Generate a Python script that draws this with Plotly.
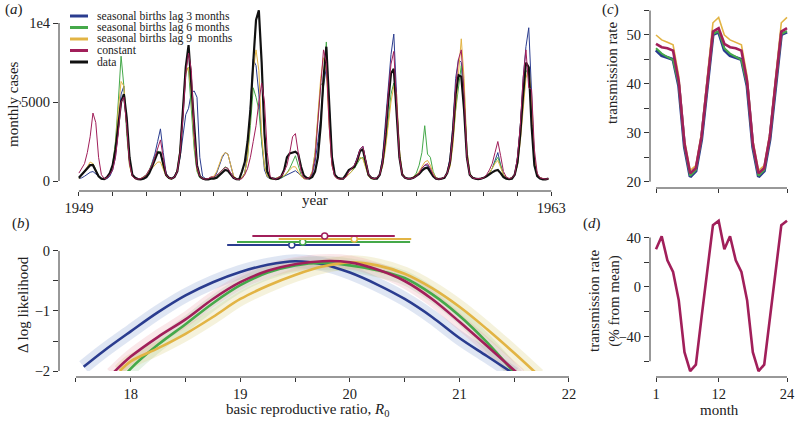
import plotly.graph_objects as go

W, H = 795, 421
def px(x): return x / W
def py(y): return 1 - y / H

FONT = "Liberation Serif, Times New Roman, Tinos, DejaVu Serif, serif"
TXT = "#222222"
AX = "#333333"

C_BLUE = "#2a3c8f"
C_GREEN = "#45a94a"
C_ORANGE = "#e2b444"
C_MAG = "#a11f5a"
C_BLACK = "#111111"

# ---------------- panel (a): monthly cases 1949-1962 ----------------
start_year = 1949
n_months = 168
t_years = [start_year + i / 12 for i in range(n_months)]

cases_data = [
    200, 400, 600, 800, 1000, 1000, 600, 300, 150, 120, 250, 500,
    1000, 2000, 3500, 5000, 5500, 4000, 1500, 400, 200, 120, 100, 150,
    250, 500, 900, 1400, 1800, 1800, 1100, 400, 200, 150, 250, 600,
    1800, 4300, 7200, 8600, 6000, 3000, 1000, 300, 150, 100, 100, 150,
    150, 200, 350, 550, 700, 650, 400, 200, 120, 100, 600, 1200,
    2500, 4500, 7500, 10200, 10800, 7500, 3000, 600, 200, 150, 120, 150,
    300, 700, 1500, 1750, 1800, 1850, 1700, 900, 350, 200, 150, 250,
    600, 1500, 3500, 6500, 8500, 4500, 1500, 400, 200, 150, 150, 400,
    700, 800, 900, 1300, 1900, 2000, 1200, 400, 200, 150, 150, 400,
    1200, 2800, 5000, 6800, 7100, 4500, 1500, 400, 200, 150, 150, 200,
    300, 450, 650, 800, 850, 600, 300, 150, 120, 150, 200, 500,
    1200, 3000, 5500, 6700, 6600, 4500, 1500, 400, 200, 150, 120, 150,
    200, 300, 450, 550, 650, 700, 500, 250, 150, 120, 150, 400,
    1200, 3000, 5500, 7500, 7200, 3500, 1000, 300, 150, 100, 100, 150,
]
cases_lag3 = [
    150, 200, 300, 450, 550, 600, 450, 250, 150, 100, 150, 300,
    700, 1500, 3200, 5500, 6000, 3500, 1200, 400, 200, 120, 130, 200,
    300, 600, 1100, 1700, 2500, 3300, 1800, 500, 200, 150, 300, 700,
    1500, 2800, 4200, 4600, 5600, 5700, 5300, 1500, 300, 150, 150, 250,
    200, 500, 1000, 1500, 1800, 1700, 1000, 300, 150, 120, 200, 500,
    1800, 5000, 7700, 7300, 5500, 2500, 700, 250, 150, 120, 150, 200,
    200, 300, 400, 500, 600, 650, 500, 300, 150, 120, 150, 400,
    1200, 2500, 4000, 6000, 7200, 5000, 1500, 400, 200, 150, 150, 300,
    600, 800, 1000, 1500, 2000, 2200, 1300, 400, 200, 150, 200, 400,
    1500, 3500, 5500, 8000, 9300, 5000, 1500, 400, 200, 150, 150, 200,
    300, 500, 800, 1000, 1000, 700, 300, 150, 120, 150, 250, 500,
    1500, 3500, 6500, 7700, 7500, 4500, 1500, 400, 200, 150, 120, 150,
    200, 300, 500, 800, 1300, 1800, 1000, 400, 200, 150, 200, 400,
    1500, 3500, 6500, 8500, 9700, 5000, 1500, 400, 200, 150, 120, 150,
]
cases_lag6 = [
    200, 400, 600, 800, 1000, 1100, 700, 300, 150, 100, 200, 500,
    1000, 2500, 5000, 7900, 6000, 3000, 1000, 300, 150, 120, 150, 250,
    400, 700, 1100, 1500, 1900, 1800, 900, 300, 150, 120, 250, 700,
    2000, 4500, 7300, 7000, 4500, 2000, 600, 200, 150, 120, 150, 200,
    200, 300, 500, 700, 900, 800, 400, 200, 120, 100, 200, 500,
    1500, 3500, 5900, 5300, 4500, 2500, 1000, 300, 150, 120, 150, 250,
    200, 300, 500, 800, 1200, 1600, 1000, 400, 200, 150, 200, 600,
    1800, 4000, 6100, 6200, 8800, 4500, 1300, 400, 200, 150, 150, 250,
    400, 600, 800, 1100, 1400, 1500, 900, 300, 150, 120, 200, 400,
    1000, 2200, 3800, 5500, 6200, 4800, 1800, 500, 200, 150, 150, 250,
    500, 1000, 1800, 3500, 1700, 1500, 600, 200, 150, 150, 250, 500,
    1000, 2500, 4500, 6000, 7300, 6000, 2000, 500, 200, 150, 130, 150,
    200, 300, 500, 800, 1200, 1500, 1000, 400, 200, 150, 200, 400,
    1000, 2800, 5000, 7000, 6800, 4000, 1200, 400, 200, 150, 120, 150,
]
cases_lag9 = [
    150, 350, 600, 900, 1200, 1100, 700, 300, 150, 100, 200, 500,
    900, 2200, 4500, 6300, 6000, 3200, 1000, 300, 150, 120, 150, 250,
    350, 600, 800, 1000, 1200, 1200, 700, 300, 150, 120, 250, 700,
    2000, 4500, 6800, 7200, 5500, 2500, 700, 250, 150, 120, 150, 250,
    300, 600, 1100, 1600, 1800, 1700, 1000, 350, 150, 120, 200, 500,
    1500, 4000, 7000, 8300, 7000, 3000, 900, 300, 150, 120, 150, 250,
    250, 350, 500, 700, 900, 900, 600, 300, 150, 120, 200, 600,
    1800, 4000, 6500, 7800, 7000, 3500, 1000, 300, 150, 120, 150, 250,
    400, 600, 900, 1200, 1500, 1400, 800, 300, 150, 120, 200, 400,
    900, 2000, 3500, 5000, 6000, 5500, 2000, 500, 200, 150, 150, 250,
    400, 600, 900, 1200, 1300, 1000, 500, 200, 150, 150, 250, 500,
    900, 2200, 4500, 7000, 9000, 6500, 2000, 500, 200, 150, 130, 150,
    200, 300, 500, 800, 1100, 1300, 900, 400, 200, 150, 200, 400,
    1000, 2500, 4500, 6500, 7200, 5000, 1500, 400, 200, 150, 120, 150,
]
cases_const = [
    500, 800, 1100, 1800, 2800, 4300, 3700, 1500, 400, 150, 200, 400,
    700, 1500, 3000, 5000, 5300, 3500, 1100, 300, 150, 120, 150, 250,
    400, 700, 1000, 1500, 2000, 2600, 1500, 400, 200, 150, 250, 600,
    1800, 4000, 6800, 8100, 7000, 3000, 900, 300, 150, 120, 150, 250,
    250, 350, 500, 700, 850, 800, 450, 200, 120, 100, 150, 400,
    800, 1500, 2500, 3500, 5000, 6200, 5000, 1800, 300, 150, 120, 200,
    300, 600, 1000, 1800, 2800, 3000, 1800, 600, 200, 150, 200, 500,
    1500, 3500, 6000, 8300, 7500, 3500, 1000, 300, 150, 120, 150, 250,
    600, 800, 1000, 1400, 2000, 2200, 1300, 400, 200, 150, 200, 400,
    1200, 3000, 5500, 7400, 8200, 5000, 1500, 400, 200, 150, 150, 200,
    300, 500, 800, 1000, 1100, 800, 400, 150, 120, 150, 250, 500,
    1200, 3000, 6000, 7700, 8300, 5500, 1500, 400, 200, 150, 130, 150,
    200, 400, 700, 1100, 1800, 2500, 1600, 600, 250, 150, 200, 400,
    1500, 3500, 6500, 8300, 5900, 5800, 2000, 500, 200, 150, 120, 150,
]
year_major = [1949, 1963]
year_minor = list(range(1950, 1963))
cases_ticks = [0, 5000, 10000]
cases_ticktext = ["0", "5000", "1e4"]

legend_names = ["seasonal births lag 3 months", "seasonal births lag 6 months",
                "seasonal births lag 9  months", "constant", "data"]
legend_colors = [C_BLUE, C_GREEN, C_ORANGE, C_MAG, C_BLACK]

# ---------------- panel (b): profile likelihood ----------------
r0_blue = [17.57, 17.75, 18.0, 18.25, 18.5, 18.75, 19.0, 19.25, 19.5, 19.75, 20.0, 20.25, 20.5, 20.75, 21.0, 21.25, 21.5]
ll_blue = [-1.93, -1.67, -1.34, -1.02, -0.74, -0.52, -0.35, -0.23, -0.17, -0.22, -0.36, -0.56, -0.80, -1.10, -1.45, -1.75, -2.05]
r0_green = [17.95, 18.0, 18.25, 18.5, 18.75, 19.0, 19.25, 19.5, 19.75, 20.0, 20.25, 20.5, 20.75, 21.0, 21.25, 21.52]
ll_green = [-2.07, -1.96, -1.56, -1.22, -0.87, -0.57, -0.36, -0.24, -0.20, -0.24, -0.32, -0.45, -0.72, -1.08, -1.52, -2.07]
r0_orange = [17.9, 18.0, 18.25, 18.5, 18.75, 19.0, 19.25, 19.5, 19.75, 20.0, 20.25, 20.5, 20.75, 21.0, 21.25, 21.5, 21.72]
ll_orange = [-2.0, -1.84, -1.62, -1.38, -1.10, -0.80, -0.58, -0.40, -0.26, -0.19, -0.24, -0.38, -0.62, -0.93, -1.30, -1.70, -2.07]
r0_mag = [17.83, 18.0, 18.25, 18.5, 18.75, 19.0, 19.25, 19.5, 19.75, 20.0, 20.25, 20.5, 20.75, 21.0, 21.25, 21.55]
ll_mag = [-2.05, -1.76, -1.43, -1.14, -0.80, -0.52, -0.33, -0.22, -0.17, -0.19, -0.31, -0.50, -0.80, -1.18, -1.58, -2.07]

# confidence intervals (order: blue, green, orange, magenta)
ci_lo = [18.88, 18.97, 19.35, 19.11]
ci_hi = [20.09, 20.55, 20.56, 20.41]
ci_mid = [19.47, 19.57, 20.04, 19.77]
ci_y = [0.10, 0.15, 0.20, 0.25]
ci_colors = [C_BLUE, C_GREEN, C_ORANGE, C_MAG]

r0_major = [18, 19, 20, 21, 22]
r0_minor = [17.5, 18.5, 19.5, 20.5, 21.5]
ll_major = [0, -1, -2]
ll_major_text = ["0", "\u22121", "\u22122"]
ll_minor = [-0.5, -1.5]

# ---------------- panel (c)/(d): seasonal transmission ----------------
months = list(range(1, 25))
beta_lag3 = [46.9, 45.8, 45.4, 45.0, 39.6, 27.1, 21.0, 22.2, 28.7, 39.6, 50.1, 50.6,
             46.9, 45.8, 45.4, 45.0, 39.6, 27.1, 21.0, 22.2, 28.7, 39.6, 50.1, 50.6]
beta_lag6 = [47.3, 46.2, 45.5, 44.9, 39.8, 27.3, 21.2, 22.4, 28.9, 39.8, 50.2, 50.8,
             47.3, 46.2, 45.5, 44.9, 39.8, 27.3, 21.2, 22.4, 28.9, 39.8, 50.2, 50.8]
beta_lag9 = [50.0, 49.0, 48.5, 48.0, 41.5, 28.5, 22.3, 23.3, 30.0, 41.0, 52.5, 53.6,
             50.0, 49.0, 48.5, 48.0, 41.5, 28.5, 22.3, 23.3, 30.0, 41.0, 52.5, 53.6]
beta_const = [48.2, 47.5, 47.3, 46.8, 40.5, 27.8, 21.7, 22.8, 29.3, 40.3, 50.7, 51.4,
              48.2, 47.5, 47.3, 46.8, 40.5, 27.8, 21.7, 22.8, 29.3, 40.3, 50.7, 51.4]
beta_pct = [30.5, 41.0, 21.6, 12.2, -10.8, -52.7, -68.0, -62.7, -24.3, 12.2, 50.0, 53.5,
            30.5, 41.0, 21.6, 12.2, -10.8, -52.7, -68.0, -62.7, -24.3, 12.2, 50.0, 53.5]

month_ticks = [1, 12, 24]
beta_major = [20, 30, 40, 50]
beta_minor = [25, 35, 45, 55]
pct_major = [-40, 0, 40]
pct_major_text = ["\u221240", "0", "40"]
pct_minor = [-60, -20, 20]

# ================= figure =================
fig = go.Figure()

# (a)
for ys, col, w in [(cases_lag3, C_BLUE, 1), (cases_lag6, C_GREEN, 1), (cases_lag9, C_ORANGE, 1),
                   (cases_data, C_BLACK, 2.2), (cases_const, C_MAG, 1)]:
    fig.add_trace(go.Scatter(x=t_years, y=ys, mode="lines", line=dict(color=col, width=w),
                             xaxis="x", yaxis="y", showlegend=False, hoverinfo="skip"))

# (b) bands
band_cols = ["rgba(110,140,200,0.22)", "rgba(130,190,130,0.20)", "rgba(215,205,120,0.26)", "rgba(230,140,150,0.20)"]
curves = [(r0_blue, ll_blue, C_BLUE), (r0_green, ll_green, C_GREEN),
          (r0_orange, ll_orange, C_ORANGE), (r0_mag, ll_mag, C_MAG)]
for (xs, ys, col), bc in zip(curves, band_cols):
    fig.add_trace(go.Scatter(x=xs, y=ys, mode="lines", line=dict(color=bc, width=14, shape="spline"),
                             xaxis="x2", yaxis="y2", showlegend=False, hoverinfo="skip"))
for xs, ys, col in curves:
    fig.add_trace(go.Scatter(x=xs, y=ys, mode="lines", line=dict(color=col, width=2.6, shape="spline"),
                             xaxis="x2", yaxis="y2", showlegend=False, hoverinfo="skip"))
for lo, hi, mid, yv, col in zip(ci_lo, ci_hi, ci_mid, ci_y, ci_colors):
    fig.add_trace(go.Scatter(x=[lo, hi], y=[yv, yv], mode="lines", line=dict(color=col, width=2),
                             xaxis="x2", yaxis="y2", showlegend=False, hoverinfo="skip"))
    fig.add_trace(go.Scatter(x=[mid], y=[yv], mode="markers",
                             marker=dict(symbol="circle", size=6, color="white", line=dict(color=col, width=1.5)),
                             xaxis="x2", yaxis="y2", showlegend=False, hoverinfo="skip", cliponaxis=False))

# (c)
for ys, col, w in [(beta_lag3, C_BLUE, 3.2), (beta_lag6, C_GREEN, 2), (beta_lag9, C_ORANGE, 1.6), (beta_const, C_MAG, 2.6)]:
    fig.add_trace(go.Scatter(x=months, y=ys, mode="lines", line=dict(color=col, width=w),
                             xaxis="x3", yaxis="y3", showlegend=False, hoverinfo="skip"))
# (d)
fig.add_trace(go.Scatter(x=months, y=beta_pct, mode="lines", line=dict(color=C_MAG, width=2.6),
                         xaxis="x4", yaxis="y4", showlegend=False, hoverinfo="skip"))

tickfont = dict(family=FONT, size=14.5, color=TXT)
def axis(ticklen=5, minor_vals=None, **kw):
    d = dict(showgrid=False, zeroline=False, showline=False, ticks="outside", ticklen=ticklen,
             tickwidth=1, tickcolor=AX, tickfont=tickfont, tickmode="array", automargin=False)
    if minor_vals is not None:
        d["minor"] = dict(tickvals=minor_vals, ticks="outside", ticklen=ticklen, tickwidth=1,
                          tickcolor=AX, showgrid=False)
    d.update(kw)
    return d

fig.update_layout(
    width=W, height=H, margin=dict(l=0, r=0, t=0, b=0, pad=0, autoexpand=False),
    paper_bgcolor="white", plot_bgcolor="white", showlegend=False,
    xaxis=axis(4, year_minor, domain=[px(59), px(558)], range=[1948.41, 1963.2], anchor="y",
               tickvals=year_major, ticktext=["1949", "1963"]),
    yaxis=axis(5, None, domain=[py(191), py(5)], range=[-633, 11139], anchor="x",
               tickvals=cases_ticks, ticktext=cases_ticktext),
    xaxis2=axis(4, r0_minor, domain=[px(59), px(575)], range=[17.345, 22.055], anchor="free",
                position=py(377), tickvals=r0_major, ticktext=[str(v) for v in r0_major]),
    yaxis2=axis(5, ll_minor, domain=[py(371), py(222)], range=[-2, 0.483], anchor="x2",
                tickvals=ll_major, ticktext=ll_major_text),
    xaxis3=axis(4, None, domain=[px(650), px(792)], range=[-0.053, 24.878], anchor="y3",
                tickvals=month_ticks, showticklabels=False),
    yaxis3=axis(5, beta_minor, domain=[py(188), py(8)], range=[18.71, 55.52], anchor="x3",
                tickvals=beta_major, ticktext=[str(v) for v in beta_major]),
    xaxis4=axis(4, None, domain=[px(650), px(792)], range=[-0.053, 24.878], anchor="y4",
                tickvals=month_ticks, ticktext=[str(v) for v in month_ticks]),
    yaxis4=axis(5, pct_minor, domain=[py(377), py(212)], range=[-72.73, 60.6], anchor="x4",
                tickvals=pct_major, ticktext=pct_major_text),
)

# spines (range frames)
ln = dict(color=AX, width=1)
shapes = [
    dict(type="line", xref="paper", yref="y", x0=px(59), x1=px(59), y0=0, y1=10000, line=ln),
    dict(type="line", xref="x", yref="paper", x0=1949, x1=1963, y0=py(191), y1=py(191), line=ln),
    dict(type="line", xref="paper", yref="y2", x0=px(59), x1=px(59), y0=-2, y1=0, line=ln),
    dict(type="line", xref="x2", yref="paper", x0=17.5, x1=22, y0=py(377), y1=py(377), line=ln),
    dict(type="line", xref="paper", yref="y3", x0=px(650), x1=px(650), y0=20, y1=55, line=ln),
    dict(type="line", xref="x3", yref="paper", x0=1, x1=24, y0=py(188), y1=py(188), line=ln),
    dict(type="line", xref="paper", yref="y4", x0=px(650), x1=px(650), y0=-60, y1=40, line=ln),
    dict(type="line", xref="x4", yref="paper", x0=1, x1=24, y0=py(377), y1=py(377), line=ln),
]
# custom legend for (a)
leg_rows = [16, 27.5, 39, 50.5, 62]
for name, col, ry in zip(legend_names, legend_colors, leg_rows):
    shapes.append(dict(type="line", xref="paper", yref="paper", x0=px(70), x1=px(88),
                       y0=py(ry), y1=py(ry), line=dict(color=col, width=3)))
fig.update_layout(shapes=shapes)

ann = []
def add_text(text, x, y, size=15, angle=0, xanchor="center"):
    ann.append(dict(text=text, x=px(x), y=py(y), xref="paper", yref="paper", showarrow=False,
                    textangle=angle, xanchor=xanchor, yanchor="middle", borderpad=0,
                    font=dict(family=FONT, size=size, color=TXT)))

for name, ry in zip(legend_names, leg_rows):
    add_text(name, 96, ry, size=11.7, xanchor="left")

add_text("(<i>a</i>)", 14, 10)
add_text("(<i>b</i>)", 21, 223)
add_text("(<i>c</i>)", 610, 10)
add_text("(<i>d</i>)", 592, 223)
add_text("monthly cases", 13, 104, angle=-90)
add_text("\u0394 log likelihood", 23, 305, angle=-90)
add_text("transmission rate", 612, 73, angle=-90)
add_text("transmission rate<br>(% from mean)", 604, 301, angle=-90)
add_text("year", 315, 200)
add_text("basic reproductive ratio, <i>R</i><sub>0</sub>", 308, 410)
add_text("month", 719, 410)
fig.update_layout(annotations=ann)

fig.write_html("out.html", config={"displayModeBar": False},
               post_script="document.body.style.margin='0';document.body.style.padding='0';")
